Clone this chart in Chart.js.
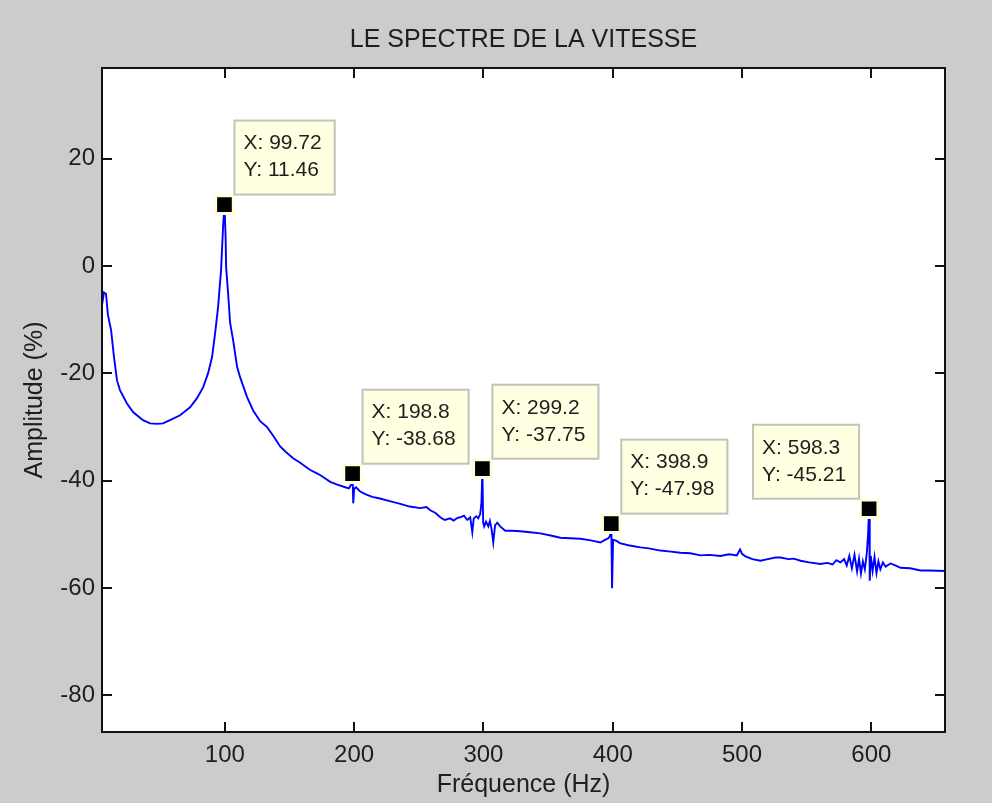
<!DOCTYPE html>
<html>
<head>
<meta charset="utf-8">
<script src="https://cdn.jsdelivr.net/npm/chart.js@4/dist/chart.umd.min.js"></script>
<style>
  html, body { margin: 0; padding: 0; background: #cccccc; }
  canvas { display: block; }
</style>
</head>
<body>
<canvas id="spectre" width="992" height="803"></canvas>
<script>
// Spectrum of the speed signal: frequency (Hz) and amplitude (%)
const freq = [
  5.0, 6.5, 8.1, 9.6, 12.0, 14.3, 16.6, 18.9, 24.3, 29.0, 36.7, 42.2, 47.6, 52.2, 57.6,
  65.4, 73.1, 78.5, 83.2, 87.0, 90.1, 92.5, 94.8, 97.1, 98.7, 99.72, 100.6, 101.0, 102.5,
  104.1, 106.4, 109.5, 111.8, 117.2, 121.9, 127.3, 132.7, 137.4, 142.8, 147.0, 152.8,
  158.0, 166.0, 172.0, 176.0, 181.5, 187.0, 193.1, 196.0, 197.5, 198.2, 198.8, 199.3,
  200.0, 201.5, 204.7, 208.6, 214.0, 220.0, 226.0, 235.7, 243.0, 251.1, 256.0, 258.9,
  263.0, 266.6, 270.0, 274.3, 277.0, 280.0, 282.1, 285.0, 287.5, 289.8, 291.4, 292.5,
  294.5, 296.0, 297.5, 298.5, 299.2, 299.8, 300.6, 302.0, 303.8, 305.0, 306.3, 307.6,
  309.0, 310.7, 313.0, 316.9, 322.0, 328.5, 336.0, 344.0, 352.0, 359.5, 367.0, 375.0,
  383.0, 390.5, 394.0, 396.7, 398.0, 398.9, 399.5, 400.3, 403.0, 405.5, 412.0, 421.4,
  428.0, 436.9, 445.0, 452.4, 460.0, 467.8, 475.0, 483.3, 490.0, 496.0, 498.5, 500.0,
  502.7, 508.0, 514.3, 520.0, 525.9, 529.8, 536.0, 540.0, 545.3, 552.0, 560.7, 566.0,
  570.0, 573.0, 576.0, 579.0, 581.0, 583.0, 585.0, 587.0, 589.0, 590.5, 592.0, 593.5,
  595.0, 596.5, 597.5, 598.3, 598.8, 599.6, 601.0, 602.5, 604.0, 605.5, 607.0, 609.0,
  611.0, 614.9, 619.0, 622.6, 630.0, 638.1, 645.0, 657.0
];
const amp = [
  -7.3, -4.9, -5.2, -9.1, -11.9, -17.0, -21.3, -23.1, -25.6, -27.2, -28.7, -29.3, -29.4, -29.3, -28.7,
  -27.8, -26.3, -24.6, -22.6, -20.0, -17.0, -12.5, -7.6, -0.7, 7.6, 11.46, 5.4, -0.2, -5.0,
  -10.6, -13.8, -18.8, -20.7, -24.4, -26.9, -28.9, -30.0, -31.6, -33.6, -34.6, -35.8,
  -36.6, -38.0, -38.7, -39.3, -40.2, -40.7, -41.2, -41.4, -40.8, -40.3, -38.68, -44.2,
  -41.5, -41.2, -42.0, -42.5, -43.0, -43.3, -43.7, -44.3, -44.8, -45.1, -44.9, -45.5,
  -46.0, -46.8, -47.3, -47.0, -47.4, -46.9, -46.8, -46.5, -47.3, -46.8, -49.6, -47.0,
  -46.6, -47.0, -46.2, -44.0, -37.75, -47.8, -48.5, -47.6, -48.5, -47.5, -49.0, -51.5,
  -48.3, -47.8, -48.5, -49.3, -49.3, -49.4, -49.6, -49.8, -50.2, -50.6, -50.7, -50.8,
  -51.1, -51.5, -51.0, -50.7, -50.2, -47.98, -60.0, -51.0, -51.2, -51.6, -52.0, -52.4,
  -52.6, -53.0, -53.2, -53.4, -53.5, -53.9, -53.8, -54.0, -53.7, -53.9, -52.8, -53.6,
  -54.1, -54.6, -54.9, -54.6, -54.3, -54.3, -54.6, -54.5, -54.9, -55.2, -55.5, -55.3,
  -55.6, -54.8, -55.2, -54.6, -55.8, -54.0, -56.3, -53.8, -56.9, -54.5, -57.3, -55.0,
  -56.5, -53.5, -50.0, -45.21, -58.6, -54.0, -56.8, -54.2, -57.2, -55.0, -56.5, -55.2,
  -56.0, -55.4, -55.8, -56.2, -56.3, -56.7, -56.7, -56.8
];

// Data tips on the harmonic peaks
const peakFreq = [99.72, 198.8, 299.2, 398.9, 598.3];
const peakAmp = [11.46, -38.68, -37.75, -47.98, -45.21];
const peakSide = ['right', 'right', 'right', 'right', 'left'];

// Axis ticks
const xTicks = [100, 200, 300, 400, 500, 600];
const yTicks = [20, 0, -20, -40, -60, -80];

const titleText = 'LE SPECTRE DE LA VITESSE';
const xTitle = 'Fréquence (Hz)';
const yTitle = 'Amplitude (%)';

const FONT = '"Liberation Sans", Arial, Helvetica, sans-serif';
const TEXT = '#1e1e1e';

const figure = {
  id: 'figure',
  beforeDraw(chart) {
    const { ctx, chartArea: a } = chart;
    ctx.save();
    ctx.fillStyle = '#cccccc';
    ctx.fillRect(0, 0, chart.width, chart.height);
    ctx.fillStyle = '#ffffff';
    ctx.fillRect(a.left, a.top, a.right - a.left, a.bottom - a.top);
    ctx.restore();
  },
  afterDatasetsDraw(chart) {
    const { ctx, chartArea: a, scales } = chart;
    ctx.save();
    ctx.strokeStyle = '#111111';
    ctx.lineWidth = 2;
    ctx.strokeRect(a.left, a.top, a.right - a.left, a.bottom - a.top);
    ctx.beginPath();
    const tl = 10;
    xTicks.forEach(v => {
      const x = Math.round(scales.x.getPixelForValue(v));
      ctx.moveTo(x, a.bottom); ctx.lineTo(x, a.bottom - tl);
      ctx.moveTo(x, a.top); ctx.lineTo(x, a.top + tl);
    });
    yTicks.forEach(v => {
      const y = Math.round(scales.y.getPixelForValue(v));
      ctx.moveTo(a.left, y); ctx.lineTo(a.left + tl, y);
      ctx.moveTo(a.right, y); ctx.lineTo(a.right - tl, y);
    });
    ctx.stroke();
    ctx.restore();
  },
  afterDraw(chart) {
    const { ctx, chartArea: a, scales } = chart;
    ctx.save();
    // data tip boxes
    ctx.font = '21px ' + FONT;
    ctx.textBaseline = 'middle';
    peakFreq.forEach((f, i) => {
      const px = scales.x.getPixelForValue(f);
      const py = scales.y.getPixelForValue(peakAmp[i]);
      const l1 = 'X: ' + String(f);
      const l2 = 'Y: ' + String(peakAmp[i]);
      const w = Math.max(ctx.measureText(l1).width, ctx.measureText(l2).width) + 22;
      const h = 74;
      const bx = peakSide[i] === 'right' ? px + 10 : px - 10 - w;
      const by = py - 10 - h;
      ctx.fillStyle = '#ffffe1';
      ctx.fillRect(bx, by, w, h);
      ctx.strokeStyle = '#c2c2b8';
      ctx.lineWidth = 2;
      ctx.strokeRect(bx, by, w, h);
      ctx.fillStyle = TEXT;
      ctx.textAlign = 'left';
      ctx.fillText(l1, bx + 9, by + 23);
      ctx.fillText(l2, bx + 9, by + 50);
    });
    // titles
    ctx.fillStyle = TEXT;
    ctx.textAlign = 'center';
    ctx.font = '25px ' + FONT;
    const cx = (a.left + a.right) / 2;
    ctx.fillText(titleText, cx, 40);
    ctx.fillText(xTitle, cx, 785);
    ctx.translate(35, (a.top + a.bottom) / 2);
    ctx.rotate(-Math.PI / 2);
    ctx.fillText(yTitle, 0, 0);
    ctx.restore();
  }
};

new Chart(document.getElementById('spectre'), {
  type: 'line',
  data: {
    datasets: [
      {
        type: 'scatter',
        data: peakFreq.map((f, i) => ({ x: f, y: peakAmp[i] })),
        pointStyle: 'rect',
        pointRadius: 12.5,
        backgroundColor: '#000000',
        borderColor: '#ffffdc',
        borderWidth: 3,
        order: 0
      },
      {
        type: 'line',
        data: freq.map((f, i) => ({ x: f, y: amp[i] })),
        borderColor: '#0000ff',
        borderWidth: 1.9,
        pointRadius: 0,
        tension: 0,
        fill: false,
        order: 1
      }
    ]
  },
  options: {
    responsive: false,
    animation: false,
    devicePixelRatio: 1,
    layout: { padding: { left: 0, top: 68, right: 47, bottom: 0 } },
    plugins: { legend: { display: false }, tooltip: { enabled: false }, title: { display: false } },
    scales: {
      x: {
        type: 'linear',
        min: 5,
        max: 657,
        grid: { display: false, drawTicks: false },
        border: { display: false },
        afterBuildTicks: s => { s.ticks = xTicks.map(v => ({ value: v })); },
        afterFit: s => { s.height = 71; },
        ticks: { autoSkip: false, maxRotation: 0, padding: 9, color: TEXT, font: { family: FONT, size: 24 } }
      },
      y: {
        type: 'linear',
        min: -86.8,
        max: 36.9,
        grid: { display: false, drawTicks: false },
        border: { display: false },
        afterBuildTicks: s => { s.ticks = yTicks.map(v => ({ value: v })); },
        afterFit: s => { s.width = 102; },
        ticks: { autoSkip: false, padding: 7, color: TEXT, font: { family: FONT, size: 24 } }
      }
    }
  },
  plugins: [figure]
});
</script>
</body>
</html>
